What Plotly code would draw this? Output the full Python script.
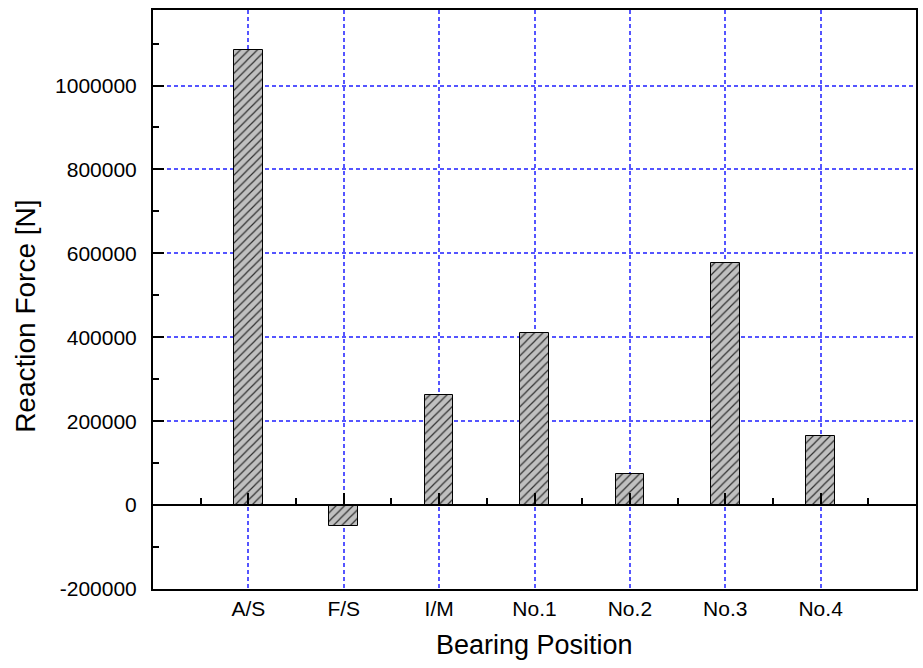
import plotly.graph_objects as go

# Bearing reaction forces
categories = ["A/S", "F/S", "I/M", "No.1", "No.2", "No.3", "No.4"]
reaction_force = [1084000, -49000, 263000, 411000, 73000, 577000, 164000]

y_ticks = [-200000, 0, 200000, 400000, 600000, 800000, 1000000]
y_ticktext = [str(v) for v in y_ticks]

x_title = "Bearing Position"
y_title = "Reaction Force [N]"

positions = list(range(len(categories)))
half_positions = [p - 0.5 for p in positions] + [positions[-1] + 0.5]

x_range = [-1, len(categories)]
y_range = [-200000, 1180000]

FONT = "Liberation Sans, Arial, sans-serif"
GRID = "#5555ff"

fig = go.Figure()

fig.add_trace(go.Bar(
    x=positions,
    y=reaction_force,
    width=0.3,
    marker=dict(
        color="#c0c0c0",
        line=dict(color="black", width=1),
        pattern=dict(shape="/", size=6, solidity=0.2,
                     fgcolor="#303030", bgcolor="#c0c0c0", fillmode="replace"),
    ),
    showlegend=False,
    hoverinfo="x+y",
))

# empty trace so the zero-level axis is attached to a subplot
fig.add_trace(go.Scatter(x=[], y=[], xaxis="x2", yaxis="y", showlegend=False))

# position of y = 0 in the plotting area (paper fraction)
zero_pos = (0 - y_range[0]) / (y_range[1] - y_range[0])

fig.update_layout(
    width=923, height=668,
    margin=dict(l=153, r=5, t=10, b=79),
    paper_bgcolor="white",
    plot_bgcolor="white",
    font=dict(family=FONT, color="black"),
    bargap=0,
    xaxis=dict(
        range=x_range,
        tickmode="array",
        tickvals=positions,
        ticktext=categories,
        ticks="",
        tickfont=dict(size=21),
        showline=True, linecolor="black", linewidth=2, mirror=True,
        showgrid=True, gridcolor=GRID, gridwidth=2, griddash="4px,3px",
        zeroline=False,
    ),
    xaxis2=dict(
        overlaying="x",
        anchor="free",
        position=zero_pos,
        side="bottom",
        range=x_range,
        tickmode="array",
        tickvals=positions,
        showticklabels=False,
        ticks="inside", ticklen=11, tickwidth=2, tickcolor="black",
        minor=dict(tickmode="array", tickvals=half_positions,
                   ticks="inside", ticklen=6, tickwidth=2, tickcolor="black",
                   showgrid=False),
        showline=True, linecolor="black", linewidth=2,
        showgrid=False, zeroline=False,
    ),
    yaxis=dict(
        range=y_range,
        tickmode="array",
        tickvals=y_ticks,
        ticktext=y_ticktext,
        ticks="inside", ticklen=11, tickwidth=2, tickcolor="black",
        minor=dict(dtick=100000, tick0=0, ticks="inside", ticklen=6,
                   tickwidth=2, tickcolor="black", showgrid=False),
        tickfont=dict(size=21),
        ticklabelstandoff=10,
        showline=True, linecolor="black", linewidth=2, mirror=True,
        showgrid=True, gridcolor=GRID, gridwidth=2, griddash="4px,3px",
        zeroline=False,
    ),
    annotations=[
        dict(text=x_title, xref="paper", yref="paper", x=0.5, y=-0.097,
             xanchor="center", yanchor="middle", showarrow=False,
             font=dict(size=27)),
        dict(text=y_title, xref="paper", yref="paper", x=-0.1673, y=0.4706,
             xanchor="center", yanchor="middle", textangle=-90, showarrow=False,
             font=dict(size=28)),
    ],
)

fig.write_html("out.html")
